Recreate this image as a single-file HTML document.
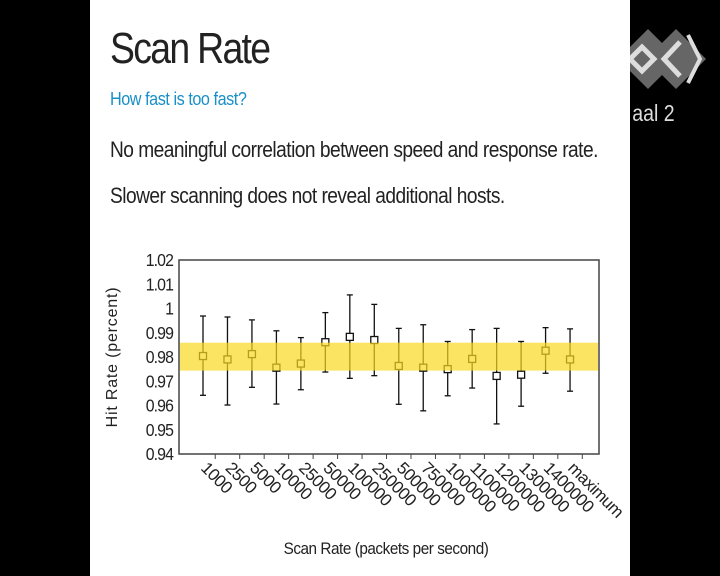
<!DOCTYPE html>
<html><head><meta charset="utf-8"><style>
body{margin:0;width:720px;height:576px;background:#000;overflow:hidden;position:relative;font-family:"Liberation Sans",sans-serif}
#slide{position:absolute;left:90px;top:0;width:540px;height:576px;background:#fff}
.t{position:absolute;white-space:nowrap;transform-origin:left}
</style></head><body>
<svg style="position:absolute;left:600px;top:20px" width="120" height="110">
<polygon points="48,9 78,39 48,69 18,39" fill="#666"/>
<polygon points="76,9 106,39 76,69 46,39" fill="#666"/>
<polygon points="42,27 54,39 42,51 30,39" fill="none" stroke="#ddd" stroke-width="5"/>
<polyline points="80,22 64,39 80,56" fill="none" stroke="#ddd" stroke-width="5"/>
<polyline points="88,15 100,39 88,63" fill="none" stroke="#ddd" stroke-width="4"/>
<text x="38" y="101" fill="#ddd" font-size="23" transform="scale(0.85,1)" font-family="Liberation Sans, sans-serif">aal 2</text>
</svg>
<div id="slide"></div>
<div class="t" style="left:110px;top:24px;font-size:44px;color:#222;letter-spacing:-2px;transform:scaleX(0.85)">Scan Rate</div>
<div class="t" style="left:110px;top:89px;font-size:18px;color:#1a8fc8;letter-spacing:-0.5px;transform:scaleX(0.9)">How fast is too fast?</div>
<div class="t" style="left:110px;top:137px;font-size:22px;color:#222;letter-spacing:-0.6px;transform:scaleX(0.87)">No meaningful correlation between speed and response rate.</div>
<div class="t" style="left:110px;top:183px;font-size:22px;color:#222;letter-spacing:-0.6px;transform:scaleX(0.87)">Slower scanning does not reveal additional hosts.</div>
<svg id="chart" style="position:absolute;left:0;top:0" width="720" height="576"></svg>
<script>
const categories=["1000","2500","5000","10000","25000","50000","100000","250000","500000","750000","1000000","1100000","1200000","1300000","1400000","maximum"];
const means=[0.9804,0.979,0.9812,0.9756,0.9773,0.9861,0.9883,0.987,0.9763,0.9756,0.975,0.9792,0.9722,0.9727,0.9826,0.979];
const lows=[0.9642,0.9602,0.9675,0.9606,0.9665,0.9738,0.9712,0.9723,0.9605,0.9578,0.964,0.9672,0.9524,0.9597,0.9733,0.9659];
const highs=[0.9969,0.9965,0.9953,0.9908,0.988,0.9983,1.0056,1.0017,0.9918,0.9933,0.9864,0.9913,0.9918,0.9864,0.9921,0.9916];
const band=[0.9744,0.9859];
const yTicks=["0.94","0.95","0.96","0.97","0.98","0.99","1","1.01","1.02"];
const L=179,R=599,T=260,B=454,ymin=0.94,ymax=1.02;
const step=24.47,x0=203;
const xs=i=>x0+i*step;
const ys=v=>B-(v-ymin)/(ymax-ymin)*(B-T);
const svg=document.getElementById('chart');
const NS='http://www.w3.org/2000/svg';
function mk(tag,attrs,parent){const e=document.createElementNS(NS,tag);for(const k in attrs)e.setAttribute(k,attrs[k]);(parent||svg).appendChild(e);return e;}
const frame=mk('rect',{x:L,y:T,width:R-L,height:B-T,fill:'#fff',stroke:'#444','stroke-width':1.5});


yTicks.forEach(t=>{const tx=mk('text',{x:0,y:0,'text-anchor':'end','font-size':18,fill:'#222','letter-spacing':'-1',transform:`translate(${L-6},${ys(+t)+6}) scale(0.88,1)`});tx.textContent=t;

});
categories.forEach((c,i)=>{const x=xs(i);
const tk=mk('line',{x1:x+step/2,y1:B,x2:x+step/2,y2:B+5,stroke:'#444'});


const tx=mk('text',{x:0,y:0,'font-size':17,fill:'#222','letter-spacing':'-0.5',transform:`translate(${x-3},${B+15}) rotate(45)`});tx.textContent=c;


const g=mk('g',{stroke:'#111','stroke-width':1.3,fill:'none'});


mk('line',{x1:x,y1:ys(lows[i]),x2:x,y2:ys(highs[i])},g);
mk('line',{x1:x-3,y1:ys(lows[i]),x2:x+3,y2:ys(lows[i])},g);
mk('line',{x1:x-3,y1:ys(highs[i]),x2:x+3,y2:ys(highs[i])},g);
mk('rect',{x:x-3.5,y:ys(means[i])-3.5,width:7,height:7,fill:'#fff'},g);
});
const bd=mk('rect',{x:L+1,y:ys(band[1]),width:R-L-2,height:ys(band[0])-ys(band[1]),fill:'#f8d820','fill-opacity':0.7});


const yt=mk('text',{x:0,y:0,'font-size':16,fill:'#222','text-anchor':'middle','letter-spacing':'0.8',transform:`translate(117,357) rotate(-90)`});yt.textContent='Hit Rate (percent)';


const xt=mk('text',{x:0,y:0,'font-size':17,fill:'#222','text-anchor':'middle','letter-spacing':'-0.5',transform:'translate(386,554) scale(0.9,1)'});xt.textContent='Scan Rate (packets per second)';


</script>
</body></html>
